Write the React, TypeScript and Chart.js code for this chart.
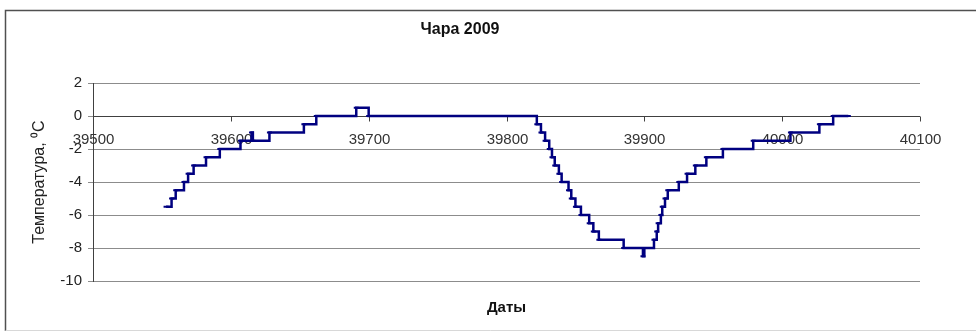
import React, { useEffect, useRef } from "react";
import { Chart, registerables } from "chart.js";

Chart.register(...registerables);

const TITLE = "Чара 2009";
const X_TITLE = "Даты";
const Y_TITLE = "Температура, ⁰C";

// step start days (Excel serial dates) and temperature level starting there
const DAYS = [
  39553, 39557, 39560, 39566, 39569, 39573, 39582, 39592, 39607, 39615, 39616,
  39628, 39653, 39662, 39691, 39700, 39822, 39825, 39828, 39831, 39833, 39835,
  39838, 39840, 39845, 39847, 39850, 39854, 39860, 39863, 39867, 39885, 39899,
  39900, 39907, 39909, 39910, 39912, 39913, 39915, 39917, 39925, 39931, 39937,
  39945, 39957, 39979, 40006, 40027, 40037, 40048,
];
const TEMPS = [
  -5.5, -5, -4.5, -4, -3.5, -3, -2.5, -2, -1.5, -1, -1.5,
  -1, -0.5, 0, 0.5, 0, -0.5, -1, -1.5, -2, -2.5, -3,
  -3.5, -4, -4.5, -5, -5.5, -6, -6.5, -7, -7.5, -8, -8.5,
  -8, -7.5, -7, -6.5, -6, -5.5, -5, -4.5, -4, -3.5, -3,
  -2.5, -2, -1.5, -1, -0.5, 0, 0,
];

const X_TICKS = [39500, 39600, 39700, 39800, 39900, 40000, 40100];
const Y_MIN = -10;
const Y_MAX = 2;
const Y_STEP = 2;

const framePlugin = {
  id: "frame",
  beforeDraw(chart: any) {
    const ctx = chart.ctx;
    ctx.save();
    ctx.fillStyle = "#ffffff";
    ctx.fillRect(0, 0, chart.width, chart.height);
    ctx.strokeStyle = "#505050";
    ctx.lineWidth = 1.5;
    ctx.beginPath();
    ctx.moveTo(5.5, 331);
    ctx.lineTo(5.5, 10.5);
    ctx.lineTo(976, 10.5);
    ctx.stroke();
    ctx.strokeStyle = "#d8d8d8";
    ctx.lineWidth = 1;
    ctx.beginPath();
    ctx.moveTo(5.5, 330.5);
    ctx.lineTo(976, 330.5);
    ctx.stroke();
    ctx.restore();
  },
};

const zeroAxisPlugin = {
  id: "zeroAxis",
  beforeDatasetsDraw(chart: any) {
    const { ctx, scales, chartArea } = chart;
    const xs = scales.x;
    const ys = scales.y;
    const y0 = Math.round(ys.getPixelForValue(0)) + 0.5;
    ctx.save();
    ctx.strokeStyle = "#404040";
    ctx.lineWidth = 1;
    ctx.beginPath();
    ctx.moveTo(chartArea.left, y0);
    ctx.lineTo(chartArea.right, y0);
    ctx.stroke();
    ctx.font = "15px 'Liberation Sans', Arial, sans-serif";
    ctx.fillStyle = "#333333";
    ctx.textAlign = "center";
    ctx.textBaseline = "middle";
    X_TICKS.forEach((v) => {
      const x = Math.round(xs.getPixelForValue(v)) + 0.5;
      ctx.beginPath();
      ctx.moveTo(x, y0);
      ctx.lineTo(x, y0 + 5);
      ctx.stroke();
      ctx.fillText(String(v), x, y0 + 23);
    });
    ctx.restore();
  },
};

export default function App() {
  const ref = useRef<HTMLCanvasElement>(null);
  useEffect(() => {
    if (!ref.current) return;
    const chart = new Chart(ref.current, {
      type: "line",
      data: {
        datasets: [
          {
            data: DAYS.map((d, i) => ({ x: d, y: TEMPS[i] })),
            stepped: true,
            borderColor: "#000080",
            backgroundColor: "#000080",
            borderWidth: 2.5,
            pointStyle: "line",
            pointRadius: 2.5,
            pointBorderColor: "#000080",
            pointBorderWidth: 2,
            fill: false,
          },
        ],
      },
      options: {
        responsive: false,
        animation: false,
        layout: { padding: { left: 0, right: 56, top: 0, bottom: 0 } },
        plugins: {
          legend: { display: false },
          tooltip: { enabled: false },
          title: {
            display: true,
            text: TITLE,
            color: "#111111",
            font: { family: "'Liberation Sans', Arial, sans-serif", size: 16, weight: "bold" },
            padding: { top: 20.4, bottom: 43.4 },
          },
        },
        scales: {
          x: {
            type: "linear",
            min: X_TICKS[0],
            max: X_TICKS[X_TICKS.length - 1],
            ticks: { display: false, stepSize: 100 },
            grid: { display: false },
            border: { display: false },
            title: {
              display: true,
              text: X_TITLE,
              color: "#111111",
              font: { family: "'Liberation Sans', Arial, sans-serif", size: 15, weight: "bold" },
              padding: { top: 0, bottom: 15 },
            },
            afterFit: (s: any) => {
              s.height = 51;
            },
          },
          y: {
            type: "linear",
            min: Y_MIN,
            max: Y_MAX,
            ticks: {
              stepSize: Y_STEP,
              color: "#222222",
              padding: 6,
              font: { family: "'Liberation Sans', Arial, sans-serif", size: 15 },
            },
            grid: { color: "#8c8c8c", lineWidth: 1, tickLength: 5, drawTicks: true },
            border: { display: true, color: "#404040", width: 1 },
            title: {
              display: true,
              text: Y_TITLE,
              color: "#222222",
              font: { family: "'Liberation Sans', Arial, sans-serif", size: 16 },
              padding: { top: 30.4, bottom: 0 },
            },
            afterFit: (s: any) => {
              s.width = 93;
            },
          },
        },
      },
      plugins: [framePlugin, zeroAxisPlugin],
    });
    return () => chart.destroy();
  }, []);
  return (
    <canvas
      ref={ref}
      width={976}
      height={332}
      style={{ position: "absolute", left: 0, top: 0, width: 976, height: 332 }}
    />
  );
}
